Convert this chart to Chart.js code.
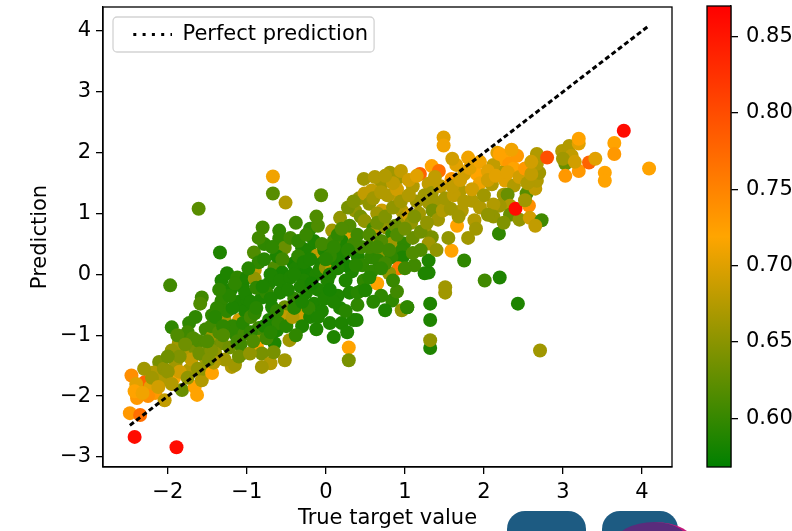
<!DOCTYPE html>
<html>
<head>
<meta charset="utf-8">
<title>Prediction vs true target value</title>
<script src="https://cdn.jsdelivr.net/npm/chart.js@4.4.1/dist/chart.umd.min.js"></script>
<style>
    html, body { margin: 0; padding: 0; background: #fff; }
    #wrap { position: relative; width: 792px; height: 531px; overflow: hidden; }
    #mainChart { position: absolute; left: 0; top: 0; }
    #barChart { position: absolute; left: 690px; top: 0; }
    .logo { position: absolute; top: 511px; height: 40px; background: #1d5b82; border-radius: 18px 18px 0 0; }
    .logo-blob { position: absolute; left: 614px; top: 522px; width: 76px; height: 44px; border-radius: 50%;
                 background: #5a2c7c; border-right: 5px solid #c4177c; }
</style>
</head>
<body>
<div id="wrap">
    <canvas id="mainChart" width="690" height="531"></canvas>
    <canvas id="barChart" width="102" height="531"></canvas>
    <div class="logo" style="left:507px; width:79px;"></div>
    <div class="logo" style="left:602px; width:76px;"></div>
    <div class="logo-blob"></div>
</div>
<script>
// axes
const xTicks = [-2, -1, 0, 1, 2, 3, 4];
const yTicks = [-3, -2, -1, 0, 1, 2, 3, 4];
const xRange = [-2.82, 4.38];
const yRange = [-3.165, 4.395];

// colour bar
const colorTicks = [0.60, 0.65, 0.70, 0.75, 0.80, 0.85];
const colorRange = [0.568, 0.870];

const lineLabel = 'Perfect prediction';

// [true target value, prediction, score]
const samples = [
    // true < -2
    [-2.46, -1.66, 0.740], [-2.29, -1.77, 0.779], [-2.39, -2.03, 0.731], [-2.48, -2.28, 0.731],
    [-2.35, -2.31, 0.769], [-2.42, -2.67, 0.860], [-2.11, -1.44, 0.639], [-2.18, -1.61, 0.673],
    [-2.08, -1.74, 0.673], [-2.16, -1.95, 0.731], [-2.04, -2.07, 0.682], [-2.40, -1.80, 0.702],
    [-2.30, -1.55, 0.663], [-2.22, -1.85, 0.702], [-2.42, -1.92, 0.721], [-2.25, -2.00, 0.740],
    [-2.05, -1.55, 0.654], [-2.20, -1.70, 0.663], [-2.12, -1.85, 0.692], [-2.32, -1.95, 0.711],
    // -2 .. -1.5
    [-1.89, -2.84, 0.860], [-1.92, -1.70, 0.721], [-1.82, -1.90, 0.630], [-1.66, -1.85, 0.721],
    [-1.63, -1.98, 0.721], [-1.57, -1.74, 0.673], [-1.95, -0.87, 0.596], [-1.97, -0.18, 0.606],
    [-1.73, -0.80, 0.596], [-1.57, -0.38, 0.606], [-1.59, -0.48, 0.615], [-1.86, -1.13, 0.663],
    [-1.78, -1.30, 0.673], [-1.66, -1.20, 0.639], [-1.53, -1.36, 0.663], [-1.73, -1.57, 0.673],
    [-1.61, 1.08, 0.620], [-1.90, -1.45, 0.663], [-1.80, -1.05, 0.634], [-1.70, -1.40, 0.682],
    [-1.85, -1.60, 0.692], [-1.60, -1.10, 0.615], [-1.55, -1.55, 0.654], [-1.95, -1.25, 0.654],
    [-1.75, -0.95, 0.606], [-1.65, -0.70, 0.596], [-1.52, -0.90, 0.606], [-2.00, -1.60, 0.654],
    [-1.95, -1.80, 0.673], [-1.85, -1.35, 0.644], [-1.75, -1.70, 0.654], [-1.68, -1.05, 0.615],
    [-1.60, -1.30, 0.634], [-1.88, -1.00, 0.615], [-2.00, -1.35, 0.634], [-1.78, -1.15, 0.634],
    [-1.62, -1.55, 0.654],
    // -1.5 .. -1
    [-1.44, -1.62, 0.721], [-1.44, -0.67, 0.596], [-1.32, -0.43, 0.596], [-1.44, -1.03, 0.663],
    [-1.32, -1.13, 0.639], [-1.19, -1.52, 0.673], [-1.10, -0.75, 0.692], [-1.28, -0.75, 0.663],
    [-1.15, -0.97, 0.596], [-1.03, -0.97, 0.606], [-1.06, -1.30, 0.615], [-1.34, 0.36, 0.586],
    [-1.32, -0.10, 0.586], [-1.15, -1.49, 0.663], [-1.40, -1.30, 0.654], [-1.25, -0.60, 0.596],
    [-1.45, -0.85, 0.606], [-1.20, -0.25, 0.586], [-1.10, -0.45, 0.586], [-1.35, -0.95, 0.615],
    [-1.22, -1.20, 0.634], [-1.05, -0.20, 0.586], [-1.12, -1.10, 0.606], [-1.48, -1.15, 0.634],
    [-1.38, -0.55, 0.596], [-1.02, -0.60, 0.586], [-1.18, -0.85, 0.596], [-1.28, -1.40, 0.663],
    [-1.08, -1.15, 0.606], [-1.42, -1.45, 0.673], [-1.25, 0.02, 0.586], [-1.12, -0.05, 0.596],
    [-1.40, -0.70, 0.591], [-1.30, -0.85, 0.596], [-1.18, -0.55, 0.586], [-1.05, -0.80, 0.591],
    [-1.22, -0.35, 0.591], [-1.00, -0.40, 0.586], [-1.10, -1.35, 0.634], [-1.30, -1.00, 0.615],
    [-1.45, -1.25, 0.644], [-1.15, -0.15, 0.596], [-1.35, -0.25, 0.596], [-1.50, -1.10, 0.615],
    [-1.48, -1.40, 0.644],
    // -1 .. -0.5
    [-0.80, 0.77, 0.606], [-0.59, 0.72, 0.596], [-0.59, 0.59, 0.596], [-0.91, 0.36, 0.615],
    [-0.52, 0.44, 0.630], [-0.41, 0.18, 0.582], [-0.65, 0.11, 0.615], [-0.90, 0.07, 0.682],
    [-1.00, -0.05, 0.586], [-0.90, -0.07, 0.654], [-0.72, -0.15, 0.586], [-0.55, 0.03, 0.582],
    [-1.02, -0.31, 0.586], [-0.81, -0.38, 0.586], [-0.68, -0.54, 0.586], [-0.52, -0.54, 0.630],
    [-0.95, -0.70, 0.606], [-0.90, -0.64, 0.596], [-0.72, -0.75, 0.586], [-0.52, -0.70, 0.682],
    [-0.87, -1.20, 0.721], [-0.65, -1.13, 0.586], [-0.46, -1.08, 0.663], [-0.81, -1.30, 0.639],
    [-0.52, -1.41, 0.663], [-0.70, -1.46, 0.673], [-0.81, -1.52, 0.663], [-0.96, -1.30, 0.654],
    [-0.62, -0.92, 0.586], [-0.81, -1.00, 0.654], [-0.67, 1.61, 0.711], [-0.67, 1.33, 0.620],
    [-0.51, 1.18, 0.673], [-0.78, 0.50, 0.596], [-0.62, 0.30, 0.586], [-0.85, 0.20, 0.596],
    [-0.75, -0.30, 0.596], [-0.58, -0.30, 0.586], [-0.95, -0.45, 0.586], [-0.60, -0.80, 0.596],
    [-0.85, -0.88, 0.606], [-0.55, 0.25, 0.606], [-0.70, 0.00, 0.586], [-0.88, -0.22, 0.596],
    [-0.78, -0.85, 0.586], [-0.66, -1.28, 0.639], [-0.95, -0.95, 0.596], [-0.88, -0.55, 0.591],
    [-0.80, -0.20, 0.586], [-0.70, -0.40, 0.586], [-0.62, -0.60, 0.596], [-0.92, -1.10, 0.615],
    [-0.75, -1.05, 0.606], [-0.98, 0.10, 0.591], [-0.78, 0.25, 0.591], [-0.68, 0.45, 0.596],
    [-0.85, 0.60, 0.606], [-0.58, -0.10, 0.586], [-0.50, -0.85, 0.591], [-0.70, -0.95, 0.591],
    // -0.5 .. 0
    [-0.30, 0.43, 0.586], [-0.21, 0.40, 0.586], [-0.11, 0.31, 0.682], [-0.38, 0.10, 0.586],
    [-0.25, 0.05, 0.582], [-0.12, 0.00, 0.586], [-0.28, -0.10, 0.586], [-0.45, -0.05, 0.586],
    [-0.05, 0.18, 0.586], [-0.25, -0.30, 0.586], [-0.10, -0.25, 0.586], [-0.40, -0.40, 0.596],
    [-0.15, -0.48, 0.586], [-0.33, -0.65, 0.692], [-0.20, -0.70, 0.586], [-0.05, -0.60, 0.586],
    [-0.42, -0.70, 0.673], [-0.30, -0.85, 0.586], [-0.35, 0.30, 0.596], [-0.15, 0.55, 0.586],
    [-0.45, 0.60, 0.606], [-0.06, 1.30, 0.620], [-0.20, 0.75, 0.596], [-0.38, 0.85, 0.606],
    [-0.10, 0.80, 0.615], [-0.48, -0.25, 0.586], [-0.22, -0.55, 0.596], [-0.38, -1.00, 0.596],
    [-0.12, -0.90, 0.586], [-0.02, -0.40, 0.586], [-0.28, 0.20, 0.586], [-0.02, 0.40, 0.586],
    [-0.40, 0.00, 0.586], [-0.32, -0.20, 0.586], [-0.18, -0.15, 0.582], [-0.08, 0.08, 0.586],
    [-0.20, 0.25, 0.586], [-0.35, 0.55, 0.596], [-0.25, 0.65, 0.601], [-0.40, -0.55, 0.591],
    [-0.10, -0.70, 0.586], [-0.30, -0.45, 0.586], [-0.12, 0.95, 0.615],
    // 0 .. 0.5
    [0.00, 0.11, 0.654], [0.08, 0.11, 0.682], [0.02, -0.10, 0.586], [0.20, 0.34, 0.586],
    [0.33, 0.67, 0.702], [0.20, 0.55, 0.586], [0.18, 0.93, 0.654], [0.08, 0.72, 0.663],
    [-0.05, 0.50, 0.606], [0.49, 0.88, 0.663], [0.37, 1.05, 0.654], [0.05, -0.80, 0.586],
    [0.20, -0.80, 0.586], [0.35, -0.75, 0.586], [0.10, -1.03, 0.586], [0.27, -0.95, 0.586],
    [0.29, -1.20, 0.721], [0.29, -1.41, 0.639], [0.46, -0.26, 0.586], [0.30, -0.30, 0.586],
    [0.15, -0.35, 0.586], [0.39, -0.75, 0.586], [0.48, -0.10, 0.596], [0.33, 0.05, 0.586],
    [0.12, 0.25, 0.586], [0.40, 0.30, 0.586], [0.25, 0.15, 0.582], [0.45, 0.45, 0.606],
    [0.30, 0.80, 0.615], [0.42, 1.25, 0.654], [0.48, 1.57, 0.663], [0.49, 1.33, 0.682],
    [0.44, 0.95, 0.639], [0.18, -0.55, 0.586], [0.40, -0.50, 0.596], [0.05, 0.30, 0.596],
    [0.35, 0.50, 0.606], [0.10, 0.55, 0.606], [0.46, 0.15, 0.596], [0.28, 1.10, 0.639],
    [0.15, 0.65, 0.596], [0.05, 0.00, 0.586], [0.15, 0.10, 0.586], [0.25, -0.10, 0.586],
    [0.38, 0.15, 0.591], [0.00, 0.25, 0.591], [0.10, 0.45, 0.596], [0.28, 0.40, 0.591],
    [0.40, 0.65, 0.606], [0.10, -0.45, 0.586], [0.25, -0.60, 0.591], [0.40, -0.30, 0.591],
    [0.05, -0.25, 0.582], [0.20, 0.75, 0.615], [0.35, 1.20, 0.644],
    // 0.5 .. 1
    [0.81, 1.67, 0.663], [0.92, 1.59, 0.663], [0.71, 1.49, 0.663], [0.58, 1.38, 0.682],
    [0.92, 1.26, 0.682], [0.55, 1.16, 0.654], [0.71, 1.05, 0.692], [0.96, 1.05, 0.673],
    [0.49, 0.88, 0.654], [0.60, 0.75, 0.606], [0.76, 0.77, 0.654], [0.84, 0.66, 0.596],
    [0.99, 0.93, 0.663], [1.05, 0.97, 0.692], [0.60, 0.66, 0.682], [0.84, 0.51, 0.663],
    [0.99, 0.51, 0.596], [0.71, 0.39, 0.654], [0.96, 0.39, 0.596], [0.57, 0.28, 0.596],
    [0.97, 0.28, 0.586], [0.66, 0.23, 0.596], [0.83, 0.28, 0.596], [0.92, 0.10, 0.759],
    [0.80, 0.02, 0.654], [0.65, -0.15, 0.721], [0.50, -0.26, 0.586], [0.84, -0.43, 0.596],
    [0.75, -0.59, 0.586], [0.96, -0.59, 0.654], [1.03, -0.54, 0.586], [0.90, -0.28, 0.606],
    [0.70, 0.55, 0.615], [0.88, 0.80, 0.630], [0.65, 1.00, 0.663], [0.55, 0.45, 0.606],
    [0.78, 1.30, 0.673], [0.62, 1.60, 0.673], [0.90, 1.40, 0.692], [0.70, -0.35, 0.596],
    [0.58, 0.05, 0.596], [0.75, 0.18, 0.606], [0.55, 0.65, 0.615], [0.65, 0.85, 0.634],
    [0.75, 0.95, 0.644], [0.85, 1.10, 0.654], [0.95, 1.20, 0.663], [0.60, 1.25, 0.663],
    [0.70, 1.35, 0.673], [0.85, 1.50, 0.682], [0.75, 1.62, 0.673], [0.95, 1.70, 0.682],
    [0.65, 0.45, 0.606], [0.80, 0.40, 0.606], [0.90, 0.65, 0.615], [0.55, -0.05, 0.591],
    [0.70, 0.10, 0.596], [0.85, -0.10, 0.601], [0.60, -0.45, 0.591],
    // 1 .. 1.5
    [1.19, 1.65, 0.779], [1.34, 1.78, 0.721], [1.43, 1.70, 0.769], [1.30, 1.49, 0.682],
    [1.34, 1.34, 0.663], [1.30, 1.18, 0.663], [1.39, 1.18, 0.663], [1.35, 1.05, 0.639],
    [1.25, 0.72, 0.663], [1.34, 0.61, 0.639], [1.30, 0.51, 0.663], [1.30, 0.23, 0.586],
    [1.30, 0.03, 0.586], [1.25, 0.02, 0.586], [1.51, -0.21, 0.663], [1.51, -0.30, 0.663],
    [1.32, -0.48, 0.586], [1.32, -0.75, 0.586], [1.32, -1.21, 0.586], [1.32, -1.08, 0.654],
    [1.49, 2.25, 0.702], [1.49, 2.12, 0.711], [1.10, 1.45, 0.673], [1.15, 1.20, 0.663],
    [1.08, 0.85, 0.654], [1.20, 0.40, 0.615], [1.12, 0.15, 0.606], [1.42, 0.90, 0.663],
    [1.45, 1.45, 0.682], [1.40, 0.40, 0.654], [1.18, 1.00, 0.663], [1.48, 1.05, 0.673],
    [1.03, -0.54, 0.596], [1.10, 0.60, 0.630], [1.05, 1.30, 0.673], [1.05, 1.55, 0.692],
    [1.15, 1.62, 0.702], [1.00, 0.75, 0.634], [1.12, 0.95, 0.644], [1.20, 0.70, 0.634],
    [1.25, 1.30, 0.663], [1.00, 0.10, 0.606], [1.10, 0.35, 0.615], [1.28, 0.85, 0.654],
    [1.38, 1.60, 0.682],
    // 1.5 .. 2
    [1.59, 1.57, 0.731], [1.91, 1.65, 0.721], [1.59, 0.39, 0.721], [1.75, 0.23, 0.596],
    [1.66, 0.80, 0.721], [1.51, 1.25, 0.663], [1.70, 1.38, 0.673], [1.85, 1.21, 0.673],
    [1.72, 1.05, 0.673], [1.88, 0.89, 0.673], [1.58, 1.08, 0.663], [1.65, 1.80, 0.702],
    [1.80, 1.92, 0.711], [1.75, 1.65, 0.692], [1.55, 0.60, 0.654], [1.80, 0.60, 0.663],
    [1.90, 0.75, 0.663], [2.01, -0.10, 0.606], [1.60, 1.90, 0.692], [1.95, 1.50, 0.711],
    [1.85, 1.40, 0.692], [1.62, 1.30, 0.682], [1.60, 1.45, 0.682], [1.70, 1.55, 0.692],
    [1.82, 1.75, 0.702], [1.95, 1.85, 0.711], [1.75, 1.20, 0.673], [1.95, 1.10, 0.673],
    [1.68, 0.95, 0.663],
    // 2 .. 2.5
    [2.20, -0.05, 0.586], [2.43, -0.48, 0.586], [2.19, 0.67, 0.596], [2.27, 1.87, 0.721],
    [2.32, 1.82, 0.731], [2.38, 1.74, 0.721], [2.22, 1.67, 0.673], [2.27, 1.54, 0.702],
    [2.38, 1.46, 0.673], [2.12, 1.80, 0.682], [2.05, 1.70, 0.702], [2.10, 1.48, 0.673],
    [2.25, 1.31, 0.663], [2.30, 1.31, 0.630], [2.33, 1.13, 0.673], [2.20, 1.13, 0.663],
    [2.12, 1.15, 0.673], [2.33, 0.98, 0.630], [2.45, 0.90, 0.654], [2.12, 0.95, 0.654],
    [2.40, 1.08, 0.860], [2.17, 2.00, 0.702], [2.00, 1.30, 0.663], [2.20, 1.98, 0.721],
    [2.42, 1.95, 0.731], [2.05, 0.98, 0.654], [2.05, 1.55, 0.692], [2.15, 1.62, 0.702],
    [2.30, 1.68, 0.702], [2.45, 1.60, 0.692], [2.25, 0.85, 0.644], [2.35, 2.05, 0.711],
    // true > 2.5
    [2.52, 1.74, 0.731], [2.57, 1.13, 0.740], [2.58, 0.93, 0.692], [2.73, 0.89, 0.606],
    [2.65, 0.80, 0.682], [2.54, 1.33, 0.620], [2.65, 1.41, 0.682], [2.67, 1.54, 0.673],
    [2.70, 1.67, 0.663], [2.67, 1.82, 0.673], [2.67, 1.98, 0.673], [2.80, 1.92, 0.798],
    [2.71, -1.25, 0.663], [2.52, 1.22, 0.663], [2.99, 2.03, 0.673], [3.08, 2.11, 0.673],
    [3.20, 2.15, 0.702], [3.20, 2.23, 0.721], [3.11, 1.95, 0.682], [3.03, 1.82, 0.630],
    [3.03, 1.62, 0.731], [3.20, 1.70, 0.731], [3.33, 1.84, 0.779], [3.41, 1.90, 0.702],
    [3.53, 1.67, 0.721], [3.53, 1.54, 0.721], [3.65, 2.16, 0.721], [3.65, 1.98, 0.731],
    [3.77, 2.36, 0.860], [4.09, 1.74, 0.721], [3.00, 1.90, 0.663], [3.15, 1.85, 0.692],
    [2.55, 1.50, 0.673], [2.60, 1.65, 0.682], [2.60, 1.85, 0.692]
];

const FONT = { family: '"DejaVu Sans", sans-serif', size: 21 };
Chart.defaults.font.family = FONT.family;
Chart.defaults.font.size = FONT.size;
Chart.defaults.color = '#000';

// green -> orange -> red, same as the colour bar
function colorFor(c) {
    let t = (c - colorRange[0]) / (colorRange[1] - colorRange[0]);
    t = Math.max(0, Math.min(1, t));
    let r, g;
    if (t < 0.5) {
        const s = t * 2;
        r = 255 * s;
        g = 128 + 37 * s;
    } else {
        const s = (t - 0.5) * 2;
        r = 255;
        g = 165 * (1 - s);
    }
    return 'rgb(' + Math.round(r) + ', ' + Math.round(g) + ', 0)';
}

function minusLabel(v) {
    return v < 0 ? '\u2212' + Math.abs(v) : String(v);
}

// keep the plot box exactly where the layout padding puts it
function noEdgePadding(s) {
    s.paddingTop = 0;
    s.paddingBottom = 0;
    s.paddingLeft = 0;
    s.paddingRight = 0;
}

// box round the plotting area
const framePlugin = {
    id: 'frame',
    afterDatasetsDraw(chart) {
        const a = chart.chartArea;
        const ctx = chart.ctx;
        ctx.save();
        ctx.strokeStyle = '#000';
        ctx.lineWidth = 1.3;
        ctx.strokeRect(a.left, a.top, a.right - a.left, a.bottom - a.top);
        ctx.restore();
    }
};

// rounded frame behind the legend entry
const legendBoxPlugin = {
    id: 'legendBox',
    beforeDraw(chart) {
        const boxes = chart.legend && chart.legend.legendHitBoxes;
        if (!boxes || !boxes.length) return;
        const b = boxes[0];
        const ctx = chart.ctx;
        ctx.save();
        ctx.beginPath();
        ctx.roundRect(b.left - 14, b.top - 7, b.width + 20, b.height + 14, 4);
        ctx.fillStyle = 'rgba(255, 255, 255, 0.8)';
        ctx.fill();
        ctx.strokeStyle = '#d3d3d3';
        ctx.lineWidth = 1.3;
        ctx.stroke();
        ctx.restore();
    }
};

const trueValues = samples.map(s => s[0]);
const lo = Math.min(...trueValues);
const hi = Math.max(...trueValues);

const tickGrid = { drawOnChartArea: false, drawTicks: true, tickLength: 7, color: '#000', lineWidth: 1.3 };
const axisBorder = { display: true, color: '#000', width: 1.3 };

new Chart(document.getElementById('mainChart'), {
    type: 'scatter',
    data: {
        datasets: [
            {
                type: 'line',
                label: lineLabel,
                data: [{ x: lo, y: lo }, { x: hi, y: hi }],
                borderColor: '#000',
                backgroundColor: '#000',
                borderWidth: 3,
                borderDash: [5, 3],
                pointRadius: 0,
                fill: false
            },
            {
                label: 'samples',
                data: samples.map(s => ({ x: s[0], y: s[1] })),
                backgroundColor: samples.map(s => colorFor(s[2])),
                borderWidth: 0,
                pointRadius: 7,
                pointHoverRadius: 7
            }
        ]
    },
    options: {
        responsive: false,
        animation: false,
        layout: { padding: { left: 0, top: 6, right: 18, bottom: 0 } },
        plugins: {
            tooltip: { enabled: false },
            legend: {
                position: 'chartArea',
                align: 'start',
                labels: {
                    generateLabels: () => [{
                        text: lineLabel,
                        datasetIndex: 0,
                        hidden: false,
                        fillStyle: '#000',
                        strokeStyle: '#000',
                        fontColor: '#000',
                        lineWidth: 3,
                        lineDash: [3, 6.3],
                        lineDashOffset: 3,
                        pointStyle: 'line'
                    }],
                    usePointStyle: true,
                    pointStyleWidth: 45,
                    padding: 24,
                    color: '#000',
                    font: FONT
                }
            }
        },
        scales: {
            x: {
                type: 'linear',
                min: xRange[0],
                max: xRange[1],
                afterBuildTicks: s => { s.ticks = xTicks.map(v => ({ value: v })); },
                afterFit: s => { s.height = 64; noEdgePadding(s); },
                grid: tickGrid,
                border: axisBorder,
                ticks: { color: '#000', padding: 6, font: FONT, callback: minusLabel },
                title: { display: true, text: 'True target value', color: '#000', font: FONT, padding: { top: 0, bottom: 0 } }
            },
            y: {
                type: 'linear',
                min: yRange[0],
                max: yRange[1],
                afterBuildTicks: s => { s.ticks = yTicks.map(v => ({ value: v })); },
                afterFit: s => { s.width = 103; noEdgePadding(s); },
                grid: tickGrid,
                border: axisBorder,
                ticks: { color: '#000', padding: 5, font: FONT, callback: minusLabel },
                title: { display: true, text: 'Prediction', color: '#000', font: FONT, padding: { top: 28, bottom: 0 } }
            }
        }
    },
    plugins: [legendBoxPlugin, framePlugin]
});

// colour bar: one floating bar filled with the colormap
new Chart(document.getElementById('barChart'), {
    type: 'bar',
    data: {
        labels: ['score'],
        datasets: [{
            data: [colorRange],
            backgroundColor: function (context) {
                const chart = context.chart;
                const area = chart.chartArea;
                if (!area) return null;
                const g = chart.ctx.createLinearGradient(0, area.bottom, 0, area.top);
                g.addColorStop(0, colorFor(colorRange[0]));
                g.addColorStop(0.5, colorFor((colorRange[0] + colorRange[1]) / 2));
                g.addColorStop(1, colorFor(colorRange[1]));
                return g;
            },
            borderWidth: 0,
            barPercentage: 1,
            categoryPercentage: 1
        }]
    },
    options: {
        responsive: false,
        animation: false,
        layout: { padding: { left: 17, top: 6, right: 0, bottom: 64 } },
        plugins: { legend: { display: false }, tooltip: { enabled: false } },
        scales: {
            x: { display: false },
            y: {
                position: 'right',
                min: colorRange[0],
                max: colorRange[1],
                afterBuildTicks: s => { s.ticks = colorTicks.map(v => ({ value: v })); },
                afterFit: s => { s.width = 61; noEdgePadding(s); },
                grid: tickGrid,
                border: axisBorder,
                ticks: { color: '#000', padding: 8, font: FONT, callback: v => Number(v).toFixed(2) }
            }
        }
    },
    plugins: [framePlugin]
});
</script>
</body>
</html>
